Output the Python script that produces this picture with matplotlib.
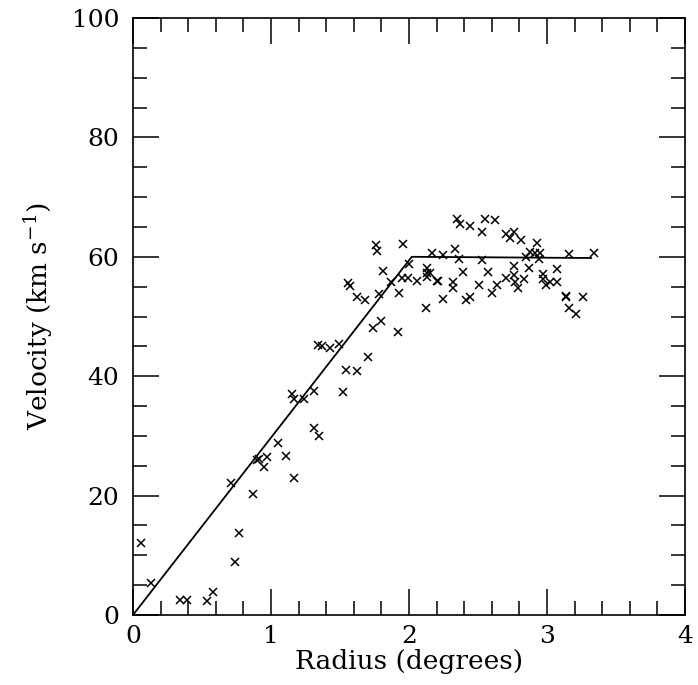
import matplotlib
matplotlib.use("Agg")
import matplotlib.pyplot as plt
import numpy as np

plt.rcParams['font.family'] = ['DejaVu Serif']
plt.rcParams['mathtext.fontset'] = 'dejavuserif'

# Observed rotation velocities (radius in degrees, velocity in km/s)
radius = [
    0.06, 0.13, 0.34, 0.39, 0.54, 0.58, 0.71, 0.74, 0.77, 0.87,
    0.90, 0.91, 0.95, 0.97, 1.05, 1.11, 1.17, 1.15, 1.17, 1.24,
    1.31, 1.31, 1.35, 1.34, 1.37, 1.43, 1.49, 1.52, 1.54, 1.62,
    1.70, 1.56, 1.57, 1.62, 1.68, 1.78, 1.74, 1.80, 1.92, 1.76,
    1.77, 1.81, 1.87, 1.93, 1.95, 1.99, 1.96, 2.00, 2.06, 2.12,
    2.13, 2.13, 2.13, 2.17, 2.15, 2.20, 2.21, 2.25, 2.25, 2.32,
    2.32, 2.33, 2.35, 2.37, 2.36, 2.39, 2.41, 2.44, 2.44, 2.51,
    2.53, 2.53, 2.55, 2.57, 2.60, 2.62, 2.64, 2.70, 2.70, 2.73,
    2.76, 2.76, 2.76, 2.77, 2.79, 2.81, 2.83, 2.85, 2.87, 2.88,
    2.91, 2.93, 2.95, 2.945, 2.97, 2.97, 2.99, 3.02, 3.07, 3.07,
    3.14, 3.14, 3.16, 3.16, 3.21, 3.26, 3.34,
]
velocity = [
    12.1, 5.3, 2.5, 2.5, 2.4, 3.8, 22.1, 8.8, 13.8, 20.2,
    26.0, 26.1, 24.8, 26.4, 28.8, 26.6, 22.9, 37.1, 36.2, 36.2,
    37.5, 31.4, 30.0, 45.2, 45.0, 44.7, 45.4, 37.4, 41.0, 40.9,
    43.3, 55.6, 55.1, 53.2, 52.8, 53.8, 48.0, 49.3, 47.4, 62.0,
    61.0, 57.7, 55.7, 53.9, 56.4, 56.4, 62.1, 58.8, 56.0, 51.4,
    58.1, 57.3, 56.7, 60.6, 57.3, 55.9, 56.0, 60.3, 53.0, 55.7,
    54.8, 61.3, 66.4, 65.5, 59.6, 57.5, 52.8, 53.2, 65.2, 55.2,
    59.5, 64.1, 66.3, 57.5, 53.9, 66.2, 55.3, 63.8, 56.5, 63.1,
    64.2, 58.5, 56.9, 55.7, 54.7, 62.8, 56.2, 59.9, 58.2, 60.8,
    60.6, 62.3, 60.6, 59.7, 57.2, 56.3, 55.3, 55.7, 58.0, 55.7,
    53.5, 53.3, 60.5, 51.4, 50.5, 53.2, 60.6,
]

# Model rotation curve (solid body rise then flat)
model_r = [0.0, 2.02, 3.32]
model_v = [0.0, 60.0, 59.8]

fig = plt.figure(figsize=(6.98, 6.85), dpi=100)
ax = fig.add_axes([0.1905, 0.1022, 0.7909, 0.8715])

ax.plot(radius, velocity, linestyle='none', marker='x', color='black',
        markersize=5.5, markeredgewidth=1.1)
ax.plot(model_r, model_v, color='black', linewidth=1.3)

ax.set_xlim(0, 4)
ax.set_ylim(0, 100)
ax.set_xticks([0, 1, 2, 3, 4])
ax.set_yticks([0, 20, 40, 60, 80, 100])
ax.set_xticks(np.arange(0, 4.01, 0.2), minor=True)
ax.set_yticks(np.arange(0, 100.1, 5), minor=True)

ax.tick_params(which='both', direction='in', top=True, right=True,
               width=1.1, labelsize=18)
ax.tick_params(axis='x', pad=7)
ax.tick_params(axis='y', pad=10)
ax.tick_params(which='major', length=19)
ax.tick_params(which='minor', length=10)
for s in ax.spines.values():
    s.set_linewidth(1.2)

ax.set_xlabel('Radius (degrees)', fontsize=19, labelpad=1)
ax.set_ylabel(r'Velocity (km s$^{-1}$)', fontsize=19, labelpad=12)

fig.savefig('out.png', dpi=100)
